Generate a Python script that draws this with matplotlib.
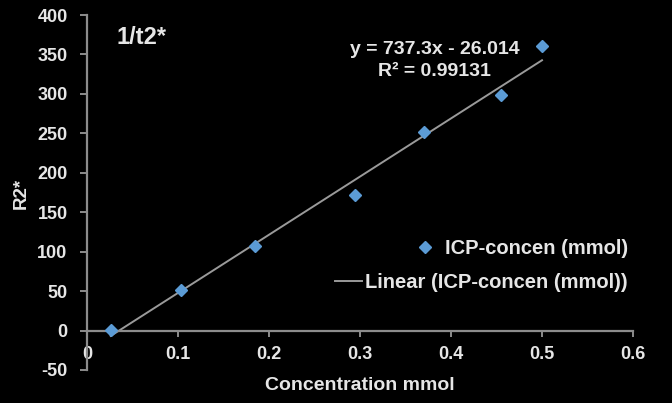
import matplotlib
matplotlib.use("Agg")
import matplotlib.pyplot as plt
import numpy as np

# Data
conc = [0.026, 0.103, 0.185, 0.295, 0.370, 0.455, 0.500]
r2star = [1, 51, 107, 172, 252, 298, 361]
slope = 737.3
intercept = -26.014
r_squared = 0.99131
x_ticks = [0, 0.1, 0.2, 0.3, 0.4, 0.5, 0.6]
x_tick_labels = ["0", "0.1", "0.2", "0.3", "0.4", "0.5", "0.6"]
y_ticks = [-50, 0, 50, 100, 150, 200, 250, 300, 350, 400]
y_tick_labels = ["-50", "0", "50", "100", "150", "200", "250", "300", "350", "400"]

plt.rcParams['font.family'] = ['Liberation Sans', 'DejaVu Sans']
plt.rcParams['font.weight'] = 'bold'

txt = '#e6e6e6'
axc = '#8c8c8c'
mcol = '#5b9bd5'
lcol = '#9a9a9a'

fig = plt.figure(figsize=(6.72, 4.03), dpi=100, facecolor='black')
ax = fig.add_axes([87/672, 33/403, (633-87)/672, (370-15)/403], facecolor='black')

for s in ['top', 'right']:
    ax.spines[s].set_visible(False)
ax.spines['bottom'].set_position(('data', 0))
for s in ['left', 'bottom']:
    ax.spines[s].set_color(axc)
    ax.spines[s].set_linewidth(1.6)

pts, = ax.plot(conc, r2star, linestyle='none', marker='D', ms=6.5, color=mcol,
               label='ICP-concen (mmol)', zorder=3)
xl = np.array([min(conc), max(conc)])
trend, = ax.plot(xl, slope * xl + intercept, color=lcol, lw=1.4,
                 label='Linear (ICP-concen (mmol))', zorder=2)

ax.set_xlim(0, 0.6)
ax.set_ylim(-50, 400)
ax.set_xticks(x_ticks, labels=x_tick_labels)
ax.set_yticks(y_ticks, labels=y_tick_labels)

ax.tick_params(axis='x', direction='out', length=4, width=1.4, color=axc,
               labelcolor=txt, labelsize=13, pad=7)
ax.tick_params(axis='y', direction='out', length=5, width=1.4, color=axc,
               labelcolor=txt, labelsize=13, pad=9)

fig.text(360/672, 1 - 385/403, 'Concentration mmol', color=txt, fontsize=14,
         fontweight='bold', ha='center', va='center')
fig.text(21/672, 1 - 193/403, 'R2*', color=txt, fontsize=13.5,
         fontweight='bold', ha='center', va='center', rotation=90)
fig.text(116/672, 1 - 37/403, '1/t2*', color=txt, fontsize=17,
         fontweight='bold', ha='left', va='center')
fig.text(435/672, 1 - 50/403, f'y = {slope}x - {abs(intercept)}', color=txt,
         fontsize=14, fontweight='bold', ha='center', va='center')
fig.text(434/672, 1 - 72/403, f'R² = {r_squared}', color=txt,
         fontsize=14, fontweight='bold', ha='center', va='center')

fs = 14.5
leg1 = ax.legend(handles=[pts], loc='center right',
                 bbox_to_anchor=(628/672, 1 - 249/403),
                 bbox_transform=fig.transFigure, frameon=False, fontsize=fs,
                 labelcolor=txt, handlelength=1.6, handletextpad=0.2,
                 borderaxespad=0, borderpad=0)
for t in leg1.get_texts():
    t.set_fontweight('bold')
ax.add_artist(leg1)
leg2 = ax.legend(handles=[trend], loc='center right',
                 bbox_to_anchor=(628/672, 1 - 283/403),
                 bbox_transform=fig.transFigure, frameon=False, fontsize=fs,
                 labelcolor=txt, handlelength=1.35, handletextpad=0.15,
                 borderaxespad=0, borderpad=0)
for t in leg2.get_texts():
    t.set_fontweight('bold')

fig.canvas.draw()
for tk in ax.xaxis.get_major_ticks() + ax.yaxis.get_major_ticks():
    tk.label1.set_fontweight('bold')
fig.savefig('out.png', dpi=100, facecolor='black')
